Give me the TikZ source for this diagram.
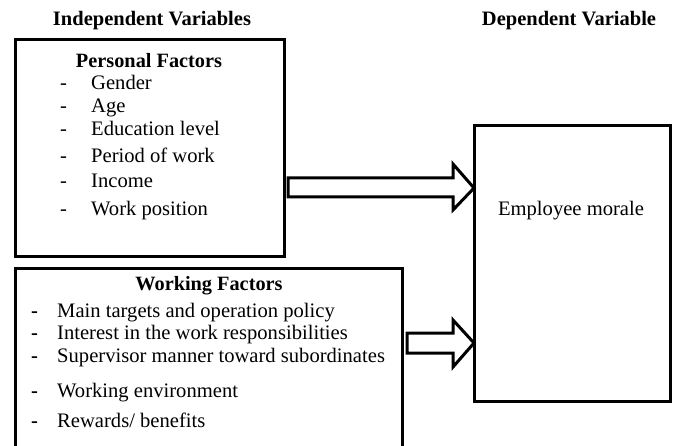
\documentclass[tikz,border=0pt]{standalone}
\usepackage{fontspec}
\setmainfont{Liberation Serif}
\begin{document}
\begin{tikzpicture}[x=1pt,y=-1pt,
  frame/.style={draw=black,line width=3pt},
  bigarrow/.style={draw=black,line width=3pt,line join=miter,fill=white},
  heading/.style={font=\fontsize{20.5}{24}\selectfont\bfseries,inner sep=0pt},
  title/.style={font=\fontsize{20.3}{24}\selectfont\bfseries,inner sep=0pt},
  item/.style={font=\fontsize{20.6}{24}\selectfont,anchor=base west,inner sep=0pt},
  hyph/.style={font=\fontsize{20.6}{24}\selectfont,anchor=base west,inner sep=0pt}]
\useasboundingbox (0,0) rectangle (676,446);
\clip (0,0) rectangle (676,446);

% column headings
\node[heading] (hind) at (152,21) {Independent Variables};
\node[heading] (hdep) at (569,21) {Dependent Variable};

% personal factors box
\draw[frame] (15,40) rectangle (284,256);
\node[title] (pf) at (149,61) {Personal Factors};
\foreach \y/\t [count=\i] in {90/Gender,113/Age,136/{Education level},163/{Period of work},188/Income,215/{Work position}}{
  \node[hyph] (pd\i) at (60,\y) {-};
  \node[item] (pi\i) at (91,\y) {\t};
}

% working factors box
\draw[frame] (15,268) rectangle (402,460);
\node[title] (wf) at (209,286) {Working Factors};
\foreach \y/\t [count=\i] in {317/{Main targets and operation policy},339/{Interest in the work responsibilities},362/{Supervisor manner toward subordinates},397/{Working environment},427/{Rewards/ benefits}}{
  \node[hyph] (wd\i) at (31,\y) {\bfseries -};
  \node[item] (wi\i) at (57,\y) {\t};
}

% dependent variable box
\draw[frame] (474,126) rectangle (670,401);
\node[font=\fontsize{20.6}{24}\selectfont,inner sep=0pt] (em) at (571,211) {Employee morale};

% block arrows
\draw[bigarrow] (288,178) -- (453,178) -- (453,164) -- (474,188) -- (453,210) -- (453,197) -- (288,197) -- cycle;
\draw[bigarrow] (407,333) -- (453,333) -- (453,320) -- (474,343) -- (453,367) -- (453,353) -- (407,353) -- cycle;
\end{tikzpicture}
\end{document}
